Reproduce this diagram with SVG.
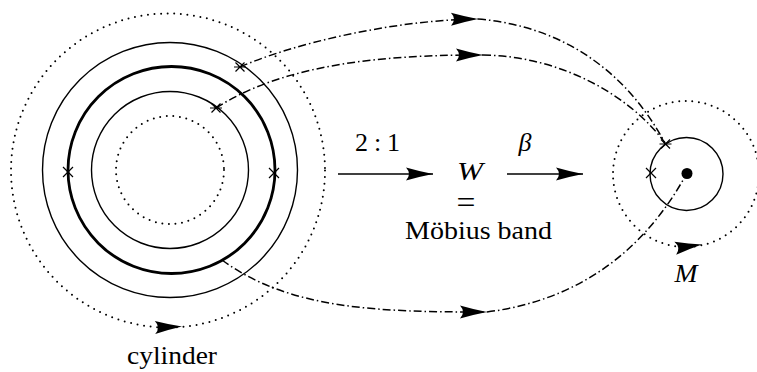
<svg xmlns="http://www.w3.org/2000/svg" width="757" height="372" viewBox="0 0 757 372">
<style>
.thin{fill:none;stroke:#000;stroke-width:1.4}
.thick{fill:none;stroke:#000;stroke-width:2.8}
.dot{fill:none;stroke:#000;stroke-width:2;stroke-linecap:round;stroke-dasharray:0 6.6}
.dd{fill:none;stroke:#000;stroke-width:1.5;stroke-dasharray:8 3 1.5 3}
.ar{fill:none;stroke:#000;stroke-width:1.5}
.mk{fill:none;stroke:#000;stroke-width:1.2}
text{fill:#000}
</style>
<defs>
<marker id="ah" markerUnits="userSpaceOnUse" markerWidth="30" markerHeight="16" viewBox="-28 -8 30 16" refX="0" refY="0" orient="auto">
<path d="M0,0 Q-13,-2.5 -27,-6.5 Q-21,0 -27,6.5 Q-13,2.5 0,0 Z" fill="#000"/>
</marker>
<path id="head" d="M0,0 Q-13,-2.5 -27,-6.5 Q-21,0 -27,6.5 Q-13,2.5 0,0 Z" fill="#000"/>
</defs>

<g id="cylinder">
<circle class="dot" cx="168" cy="170.5" r="157"/>
<use href="#head" transform="translate(182,326.5) rotate(-2)"/>
<circle class="thin" cx="170" cy="170" r="127.5"/>
<circle class="thick" cx="171.5" cy="170" r="103.5"/>
<circle class="thin" cx="170" cy="170" r="78.5"/>
<circle class="dot" cx="170" cy="170" r="54"/>
<path class="mk" d="M63,167 L73,177 M63,177 L73,167"/>
<path class="mk" d="M269,168 L279,178 M269,178 L279,168"/>
<path class="mk" d="M235.5,62.5 L244.5,71.5 M235.5,71.5 L244.5,62.5 M234,67 L246,67"/>
<path class="mk" d="M211.5,103.5 L220.5,112.5 M211.5,112.5 L220.5,103.5 M210,108 L222,108"/>
<text font-family="'Liberation Serif','DejaVu Serif',serif" x="172" y="364" font-size="26" text-anchor="middle" textLength="90" lengthAdjust="spacingAndGlyphs">cylinder</text>
</g>

<g id="W">
<text font-family="'Liberation Serif','DejaVu Serif',serif" font-style="italic" x="470" y="180" font-size="25" text-anchor="middle" textLength="26" lengthAdjust="spacingAndGlyphs">W</text>
<text font-family="'Liberation Serif','DejaVu Serif',serif" x="466" y="213" font-size="32" text-anchor="middle" transform="translate(466,0) scale(1.05,1) translate(-466,0)">=</text>
<text font-family="'Liberation Serif','DejaVu Serif',serif" x="405" y="239" font-size="25" textLength="147" lengthAdjust="spacingAndGlyphs">Möbius band</text>
</g>

<g id="M">
<circle class="dot" cx="686" cy="174" r="73"/>
<use href="#head" transform="translate(702,244.5) rotate(-8)"/>
<circle class="thin" cx="686.5" cy="174" r="36.5"/>
<circle cx="687" cy="173.5" r="5.5" fill="#000"/>
<path class="mk" d="M646,168 L656,178 M646,178 L656,168"/>
<path class="mk" d="M661,139.5 L670,148.5 M661,148.5 L670,139.5 M659.5,144 L671.5,144"/>
<text font-family="'Liberation Serif','DejaVu Serif',serif" font-style="italic" x="686" y="282" font-size="26" text-anchor="middle" textLength="23" lengthAdjust="spacingAndGlyphs">M</text>
</g>

<g id="labels">
<text font-family="'Liberation Serif','DejaVu Serif',serif" x="355" y="151" font-size="26" textLength="45" lengthAdjust="spacing">2 : 1</text>
<text font-family="'Liberation Serif','DejaVu Serif',serif" font-style="italic" x="525" y="151" font-size="26" text-anchor="middle">β</text>
</g>

<g id="connectors">
<path class="ar" d="M338,174 L433,174" marker-end="url(#ah)"/>
<path class="ar" d="M507,174 L583,174" marker-end="url(#ah)"/>
<path class="dd" d="M240,67 C290,45 390,20 478,19" marker-end="url(#ah)"/>
<path class="dd" d="M478,19 C550,25 620,60 665,143"/>
<path class="dd" d="M216,108 C290,60 400,55 483,55" marker-end="url(#ah)"/>
<path class="dd" d="M483,55 C560,56 630,95 665,143"/>
<path class="dd" d="M222,260 C290,310 380,312 487,312" marker-end="url(#ah)"/>
<path class="dd" d="M487,312 C580,300 645,250 687,173"/>
</g>
</svg>
